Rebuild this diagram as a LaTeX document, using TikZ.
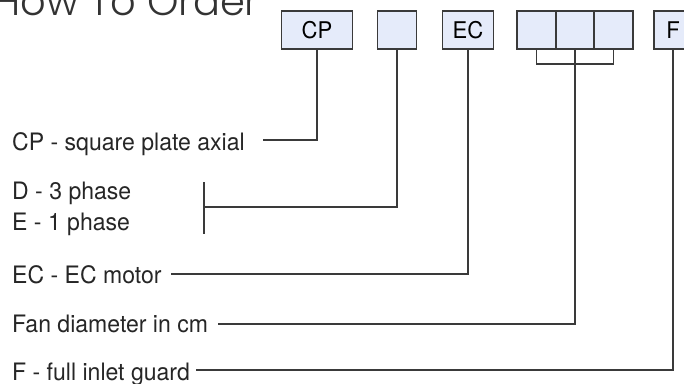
\documentclass[tikz,border=0pt]{standalone}
\usepackage{fontspec}
\setmainfont{TeX Gyre Heros}[FakeStretch=0.96]
\newfontfamily\titlefont{Poppins Light}
\definecolor{boxfill}{RGB}{229,235,250}
\definecolor{linegray}{RGB}{58,58,58}
\tikzset{
	codebox/.style={draw=linegray, line width=1.4pt, fill=boxfill, minimum height=38pt, inner sep=0pt, font=\fontsize{23}{24}\selectfont},
	lead/.style={draw=linegray, line width=1.2pt},
	itemtext/.style={anchor=base west, inner sep=0pt, text=black!85, font=\fontsize{24}{28}\selectfont}
}
\begin{document}
\begin{tikzpicture}[x=1pt,y=-1pt]
		\useasboundingbox (0,0) rectangle (684,383);
		\node[anchor=base west, inner sep=0pt, text=black!80, font=\titlefont\fontsize{40}{42}\selectfont] (title) at (-7,15) {How To Order};
		% the code boxes
		\node[codebox, minimum width=71pt] (cp) at (317,30) {CP};
		\node[codebox, minimum width=39pt] (ph) at (397,30) {};
		\node[codebox, minimum width=51pt] (ec) at (468,30) {EC};
		\node[codebox, minimum width=39pt] (dia1) at (536.5,30) {};
		\node[codebox, minimum width=38pt] (dia2) at (575,30) {};
		\node[codebox, minimum width=39pt] (dia3) at (613.5,30) {};
		\node[codebox, minimum width=38pt] (fg) at (673,30) {F};
		% the meanings
		\node[itemtext] (cptext) at (12,150) {CP - square plate axial};
		\node[itemtext] (dtext) at (12,199) {D - 3 phase};
		\node[itemtext] (etext) at (12,230) {E - 1 phase};
		\node[itemtext] (ectext) at (12,283) {EC - EC motor};
		\node[itemtext] (diatext) at (12,332) {Fan diameter in cm};
		\node[itemtext] (fgtext) at (12,380) {F - full inlet guard};
		% free ends of the leads
		\coordinate (cpend) at (263,140);
		\coordinate (phtop) at (204,182);
		\coordinate (phbot) at (204,234);
		\coordinate (phjoin) at (204,207);
		\coordinate (ecend) at (171,274);
		\coordinate (brk) at (575,64);
		\coordinate (diaend) at (218,324);
		\coordinate (fgend) at (196,370);
		\draw[lead] (cp.south) |- (cpend);
		\draw[lead] (phtop) -- (phbot);
		\draw[lead] (ph.south) |- (phjoin);
		\draw[lead] (ec.south) |- (ecend);
		\draw[lead] (dia1.south) |- (brk) -| (dia3.south);
		\draw[lead] (dia2.south) |- (diaend);
		\draw[lead] (fg.south) |- (fgend);
\end{tikzpicture}
\end{document}
